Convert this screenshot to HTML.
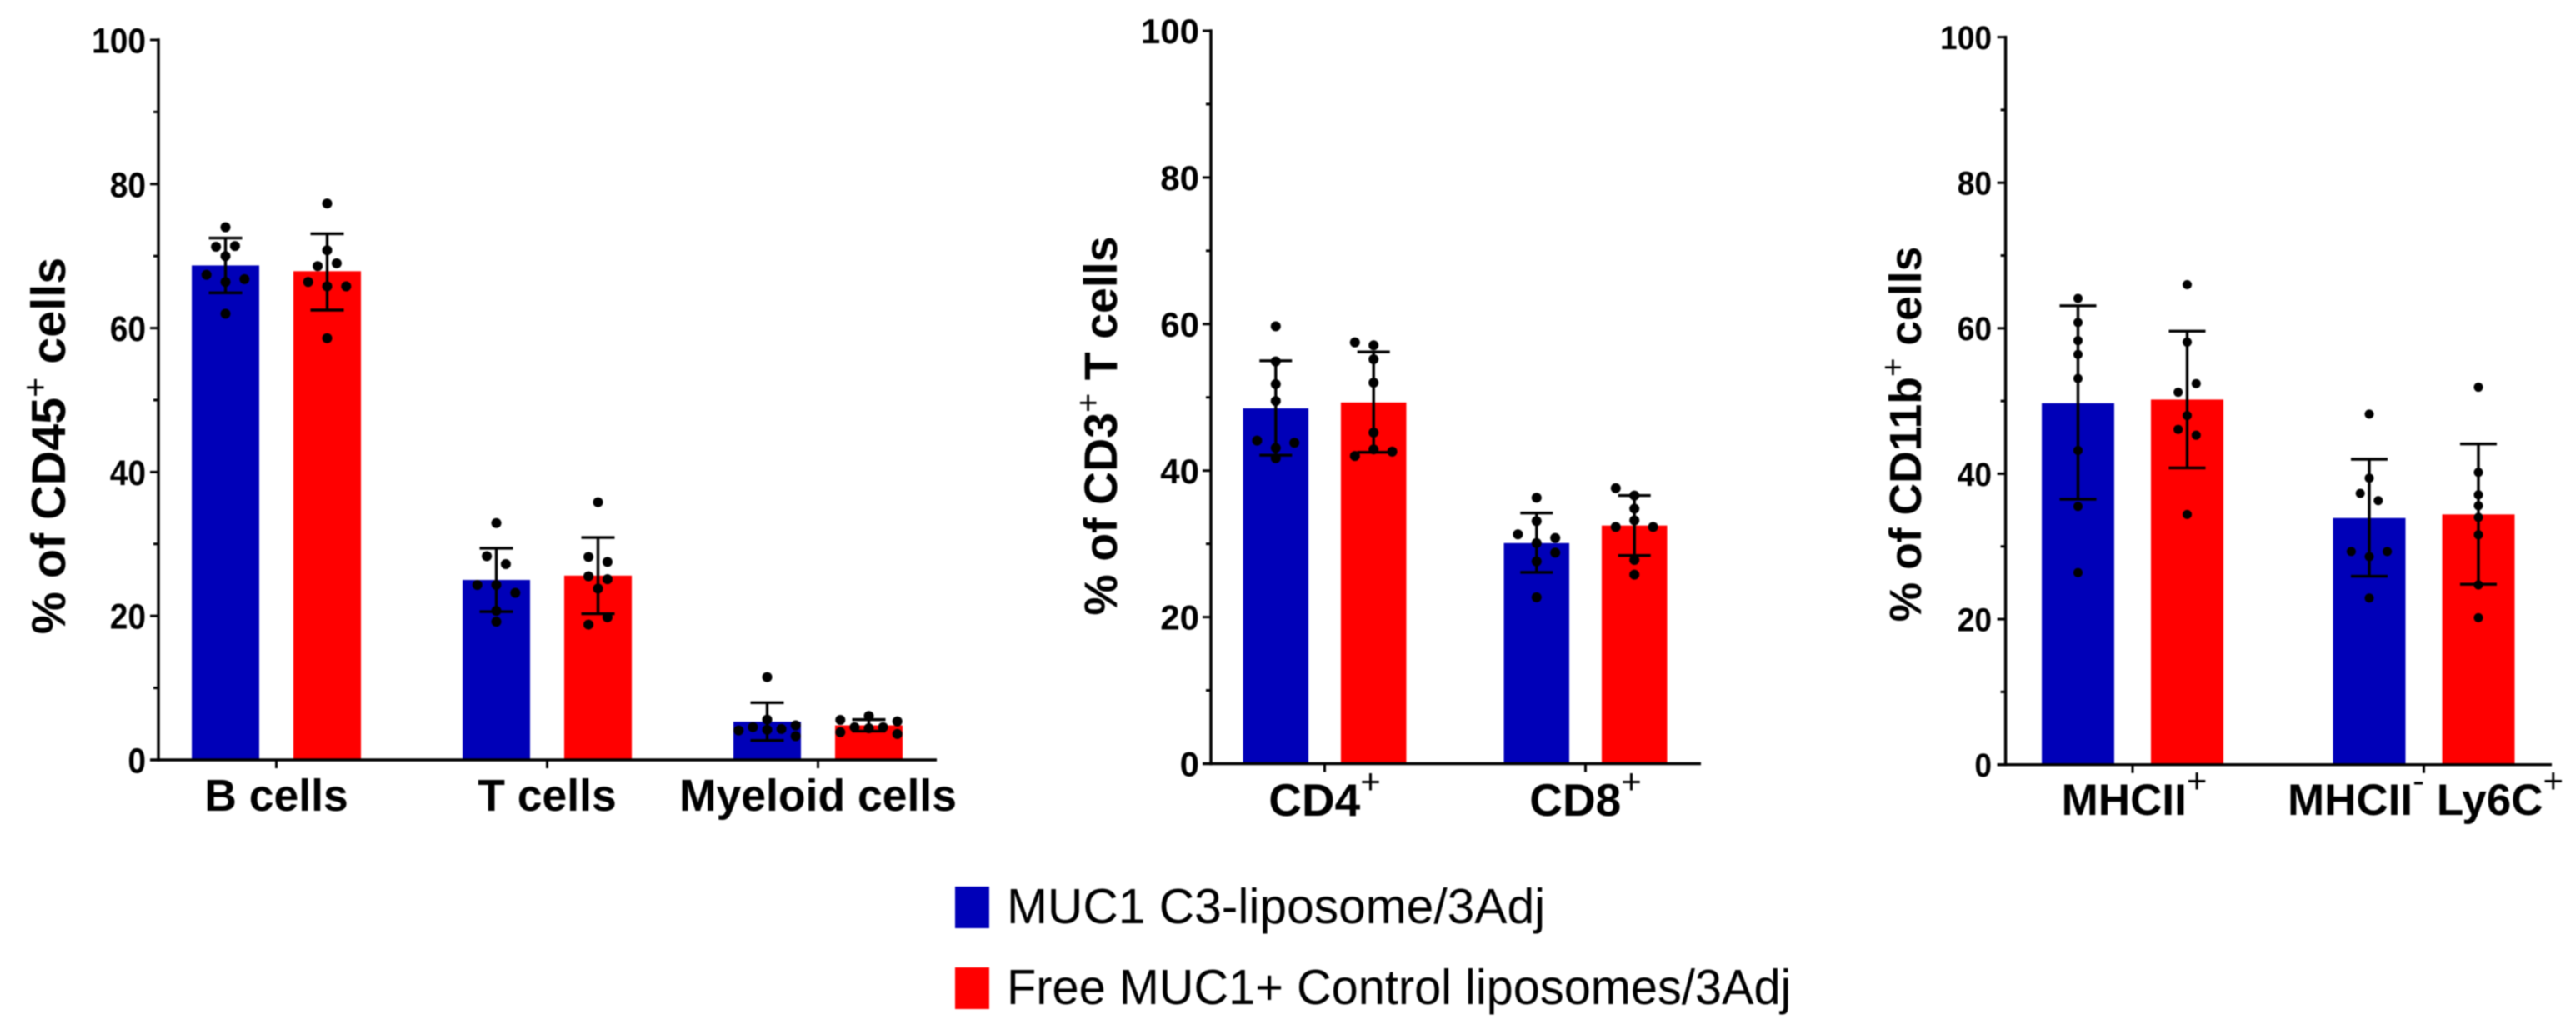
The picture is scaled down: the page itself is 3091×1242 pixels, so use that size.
<!DOCTYPE html>
<html lang="en">
<head>
<meta charset="utf-8">
<title>Immune cell populations by liposome formulation</title>
<style>
html,body{margin:0;padding:0;background:#fff;width:3091px;height:1242px;overflow:hidden}
svg{display:block;filter:blur(0.7px)}
text{font-family:"Liberation Sans",Arial,sans-serif;fill:#000}
</style>
</head>
<body>
<svg id="figure" xmlns="http://www.w3.org/2000/svg" width="3091" height="1242" viewBox="0 0 3091 1242">
  <rect x="0" y="0" width="3091" height="1242" fill="#fff"/>
  <g id="panels"></g>
  <g>
    <g>
      <rect x="1146" y="1064" width="41" height="50" fill="#0000b8"/>
      <text transform="translate(1208 1108) scale(0.987 1)" font-size="59.5">MUC1 C3-liposome/3Adj</text>
    </g>
    <g>
      <rect x="1146" y="1161" width="41" height="50" fill="#ff0000"/>
      <text transform="translate(1208 1205) scale(0.97 1)" font-size="59.5">Free MUC1+ Control liposomes/3Adj</text>
    </g>
  </g>
</svg>
<script>
// Shared y axis
const yTicks = [0, 10, 20, 30, 40, 50, 60, 70, 80, 90, 100];
const yTickLabels = ['0', '', '20', '', '40', '', '60', '', '80', '', '100'];

// Panel 1: % of CD45+ cells
const p1Title = ['% of CD45', '+', ' cells'];
const p1Categories = ['B cells', 'T cells', 'Myeloid cells'];
const p1BlueMeans = [68.7, 25.0, 5.3];
const p1RedMeans = [67.9, 25.6, 4.8];
const p1BlueErrHigh = [72.5, 29.4, 7.95];
const p1BlueErrLow = [64.9, 20.6, 2.7];
const p1RedErrHigh = [73.1, 30.9, 5.6];
const p1RedErrLow = [62.5, 20.3, 4.0];
const p1BlueDots = [
  [74.0, 71.3, 71.4, 70.0, 67.4, 66.8, 66.4, 62.0],
  [32.9, 28.3, 27.2, 24.3, 24.3, 23.2, 20.7, 19.2],
  [11.5, 5.6, 4.8, 4.55, 4.3, 4.2, 4.1, 3.3]
];
const p1RedDots = [
  [77.3, 70.8, 68.6, 69.0, 66.4, 65.8, 65.8, 58.6],
  [35.8, 28.2, 27.5, 25.5, 25.1, 23.8, 19.8, 18.8],
  [6.1, 5.55, 5.35, 4.55, 4.55, 4.4, 3.85, 3.6]
];
// Swarm slot of each dot (rank beside the centre line)
const p1BlueSlots = [
  [0, -2, 2, 0, -4, 4, 0, 0],
  [0, -2, 2, -4, 0, 4, 0, 0],
  [0, 0, 6, -3, 3, 0, -6, 6]
];
const p1RedSlots = [
  [0, 0, -2, 2, -4, 4, 0, 0],
  [0, -2, 2, -2, 2, 0, 2, -2],
  [0, -6, 6, -3, 3, 0, -6, 6]
];

// Panel 2: % of CD3+ T cells
const p2Title = ['% of CD3', '+', ' T cells'];
const p2Categories = ['CD4^+', 'CD8^+'];
const p2BlueMeans = [48.5, 30.1];
const p2RedMeans = [49.3, 32.5];
const p2BlueErrHigh = [55.0, 34.2];
const p2BlueErrLow = [42.1, 26.1];
const p2RedErrHigh = [56.2, 36.6];
const p2RedErrLow = [42.5, 28.4];
const p2BlueDots = [
  [59.7, 54.9, 51.8, 49.5, 44.1, 43.8, 43.1, 41.7],
  [36.3, 33.1, 31.3, 30.8, 30.1, 28.8, 27.6, 22.7]
];
const p2RedDots = [
  [57.5, 57.1, 55.2, 52.0, 45.2, 42.9, 42.6, 42.0],
  [37.6, 36.6, 34.8, 33.2, 32.3, 32.3, 27.8, 25.8]
];
const p2BlueSlots = [
  [0, 0, 0, 0, -4, 4, 0, 0],
  [0, 0, -4, 4, 0, 4, 0, 0]
];
const p2RedSlots = [
  [-4, 0, 0, 0, 0, 0, 4, -4],
  [-4, 0, 0, 0, -4, 4, 0, 0]
];

// Panel 3: % of CD11b+ cells
const p3Title = ['% of CD11b', '+', ' cells'];
const p3Categories = ['MHCII^+', 'MHCII^- Ly6C^+'];
const p3BlueMeans = [49.7, 33.9];
const p3RedMeans = [50.2, 34.4];
const p3BlueErrHigh = [63.1, 42.0];
const p3BlueErrLow = [36.5, 25.9];
const p3RedErrHigh = [59.6, 44.1];
const p3RedErrLow = [40.8, 24.8];
const p3BlueDots = [
  [64.1, 60.8, 58.3, 56.4, 53.1, 43.2, 35.5, 26.4],
  [48.2, 39.4, 37.3, 36.3, 29.3, 29.3, 28.6, 22.9]
];
const p3RedDots = [
  [66.0, 58.1, 52.4, 51.2, 48.0, 46.1, 45.3, 34.4],
  [51.9, 40.2, 37.1, 35.6, 34.0, 31.6, 24.7, 20.2]
];
const p3BlueSlots = [
  [0, 0, 0, 0, 0, 0, 0, 0],
  [0, 0, -2, 2, -4, 4, 0, 0]
];
const p3RedSlots = [
  [0, 0, 2, -2, 0, -2, 2, 0],
  [0, 0, 0, 0, 0, 0, 0, 0]
];

const SVG_NS = 'http://www.w3.org/2000/svg';
const BLUE = '#0000b8';
const RED = '#ff0000';
const panelsRoot = document.getElementById('panels');

function make(parent, tag, attrs) {
  const node = document.createElementNS(SVG_NS, tag);
  for (const key in attrs) node.setAttribute(key, attrs[key]);
  parent.appendChild(node);
  return node;
}

function addLabelRuns(textEl, label, supSize, supRise) {
  const parts = label.split('^');
  parts.forEach(function (part, i) {
    if (i === 0) {
      const run = make(textEl, 'tspan', {});
      run.textContent = part;
      return;
    }
    const sup = make(textEl, 'tspan', { 'font-size': supSize, 'font-weight': 'normal', dy: -supRise });
    sup.textContent = part.charAt(0);
    const rest = part.slice(1);
    const tail = make(textEl, 'tspan', { dy: supRise });
    tail.textContent = rest === '' ? '\u200b' : rest;
  });
}

function drawGroup(g, cfg, scaleY, cx, mean, high, low, dots, slots, color, seriesKey, catKey) {
  const bar = make(g, 'rect', {
    x: cx - cfg.barWidth / 2,
    y: scaleY(mean),
    width: cfg.barWidth,
    height: scaleY(0) - scaleY(mean),
    fill: color
  });
  
  

  dots.forEach(function (value, i) {
    const dot = make(g, 'circle', {
      cx: cx + slots[i] * cfg.slotUnit,
      cy: scaleY(value),
      r: cfg.dotRadius,
      fill: '#000'
    });
    
    
  });

  const stem = make(g, 'line', {
    x1: cx, x2: cx, y1: scaleY(high), y2: scaleY(low),
    stroke: '#000', 'stroke-width': 3.4
  });
  
  

  [high, low].forEach(function (value) {
    const cap = make(g, 'line', {
      x1: cx - cfg.capWidth / 2, x2: cx + cfg.capWidth / 2, y1: scaleY(value), y2: scaleY(value),
      stroke: '#000', 'stroke-width': 3.4
    });
    
    
  });
}

function drawPanel(cfg) {
  const scaleY = function (v) { return cfg.yZero - (v / 100) * (cfg.yZero - cfg.yTop); };
  const scaleCat = function (i) { return cfg.catStart + i * cfg.catStep; };

  const g = make(panelsRoot, 'g', {});
  
  

  cfg.categories.forEach(function (label, i) {
    const cx = scaleCat(i);
    const catKey = label.replace(/[^A-Za-z0-9]+/g, '-').toLowerCase().replace(/-$/, '');
    drawGroup(g, cfg, scaleY, cx - cfg.barOffset, cfg.blueMeans[i], cfg.blueHigh[i], cfg.blueLow[i], cfg.blueDots[i], cfg.blueSlots[i], BLUE, 'muc1-c3', catKey);
    drawGroup(g, cfg, scaleY, cx + cfg.barOffset, cfg.redMeans[i], cfg.redHigh[i], cfg.redLow[i], cfg.redDots[i], cfg.redSlots[i], RED, 'free-muc1', catKey);
  });

  const yAxis = make(g, 'line', {
    x1: cfg.axisX, x2: cfg.axisX, y1: cfg.yTop - 1.7, y2: cfg.yZero + 1.7,
    stroke: '#000', 'stroke-width': 3.4
  });
  
  

  const xAxis = make(g, 'line', {
    x1: cfg.axisX - 10, x2: cfg.xEnd, y1: cfg.yZero, y2: cfg.yZero,
    stroke: '#000', 'stroke-width': 3.4
  });
  
  

  yTicks.forEach(function (value, i) {
    const major = yTickLabels[i] !== '';
    const y = scaleY(value);
    const tick = make(g, 'line', {
      x1: cfg.axisX - (major ? 10 : 6), x2: cfg.axisX, y1: y, y2: y,
      stroke: '#000', 'stroke-width': 3
    });
    
    
    if (major) {
      const t = make(g, 'text', {
        transform: 'translate(' + (cfg.axisX - cfg.tickGap) + ' ' + (y + cfg.tickSize * 0.36) + ') scale(' + cfg.tickScaleX + ' 1)',
        'font-size': cfg.tickSize,
        'font-weight': 'bold',
        'text-anchor': 'end'
      });
      t.textContent = yTickLabels[i];
      
      
    }
  });

  cfg.categories.forEach(function (label, i) {
    const x = scaleCat(i);
    const tick = make(g, 'line', {
      x1: x, x2: x, y1: cfg.yZero, y2: cfg.yZero + 10,
      stroke: '#000', 'stroke-width': 3
    });
    
    

    const t = make(g, 'text', {
      x: x + cfg.labelShift,
      y: cfg.labelBaseline,
      'font-size': cfg.labelSize,
      'font-weight': 'bold',
      'text-anchor': 'middle'
    });
    addLabelRuns(t, label, 42, 27);
    
    
  });

  const title = make(g, 'text', {
    transform: 'translate(' + cfg.titleX + ' ' + cfg.titleY + ') rotate(-90)',
    'font-size': cfg.titleSize,
    'font-weight': 'bold',
    'text-anchor': 'middle'
  });
  const t1 = make(title, 'tspan', {});
  t1.textContent = cfg.title[0];
  const t2 = make(title, 'tspan', { 'font-size': cfg.titleSize * 0.72, 'font-weight': 'normal', dy: -cfg.titleSize * 0.38 });
  t2.textContent = cfg.title[1];
  const t3 = make(title, 'tspan', { dy: cfg.titleSize * 0.38 });
  t3.textContent = cfg.title[2];
  
  
}

drawPanel({
  key: 'cd45', title: p1Title, categories: p1Categories,
  blueMeans: p1BlueMeans, redMeans: p1RedMeans,
  blueHigh: p1BlueErrHigh, blueLow: p1BlueErrLow, redHigh: p1RedErrHigh, redLow: p1RedErrLow,
  blueDots: p1BlueDots, redDots: p1RedDots, blueSlots: p1BlueSlots, redSlots: p1RedSlots,
  axisX: 190, xEnd: 1124, yTop: 48, yZero: 912,
  catStart: 331.5, catStep: 325, barOffset: 61, barWidth: 81, capWidth: 40,
  slotUnit: 5.7, dotRadius: 6,
  tickSize: 43, tickScaleX: 0.905, tickGap: 15,
  labelSize: 53.5, labelBaseline: 973, labelShift: 0,
  titleX: 78, titleY: 535, titleSize: 57.5
});

drawPanel({
  key: 'cd3', title: p2Title, categories: p2Categories,
  blueMeans: p2BlueMeans, redMeans: p2RedMeans,
  blueHigh: p2BlueErrHigh, blueLow: p2BlueErrLow, redHigh: p2RedErrHigh, redLow: p2RedErrLow,
  blueDots: p2BlueDots, redDots: p2RedDots, blueSlots: p2BlueSlots, redSlots: p2RedSlots,
  axisX: 1453, xEnd: 2041, yTop: 37, yZero: 916.5,
  catStart: 1589.5, catStep: 313, barOffset: 58.7, barWidth: 78.5, capWidth: 39,
  slotUnit: 5.6, dotRadius: 6,
  tickSize: 42, tickScaleX: 1, tickGap: 14,
  labelSize: 55, labelBaseline: 979, labelShift: 0,
  titleX: 1340, titleY: 511, titleSize: 55.5
});

drawPanel({
  key: 'cd11b', title: p3Title, categories: p3Categories,
  blueMeans: p3BlueMeans, redMeans: p3RedMeans,
  blueHigh: p3BlueErrHigh, blueLow: p3BlueErrLow, redHigh: p3RedErrHigh, redLow: p3RedErrLow,
  blueDots: p3BlueDots, redDots: p3RedDots, blueSlots: p3BlueSlots, redSlots: p3RedSlots,
  axisX: 2406.6, xEnd: 3062, yTop: 44.6, yZero: 917.7,
  catStart: 2559, catStep: 349.5, barOffset: 65.5, barWidth: 87, capWidth: 44,
  slotUnit: 5.4, dotRadius: 5.5,
  tickSize: 40, tickScaleX: 0.93, tickGap: 16.5,
  labelSize: 53, labelBaseline: 978, labelShift: 2,
  titleX: 2305, titleY: 521, titleSize: 53.5
});
</script>
</body>
</html>
